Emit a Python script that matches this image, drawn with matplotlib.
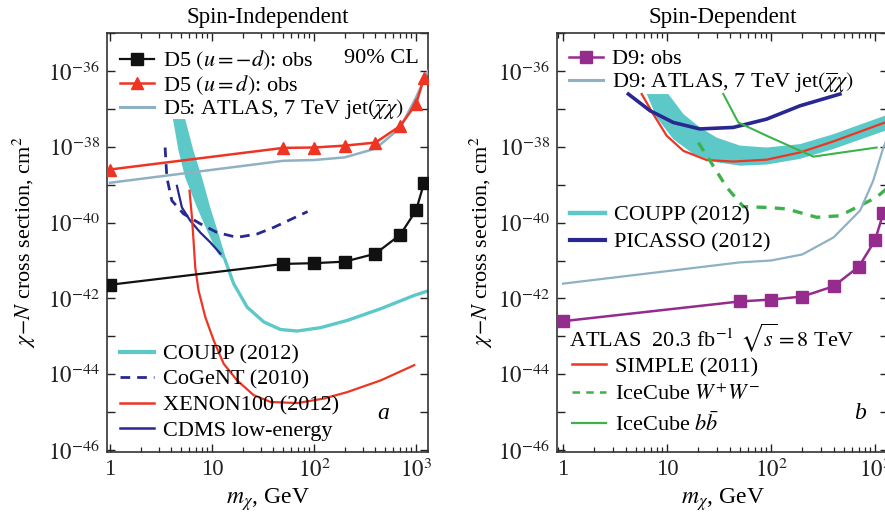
import numpy as np
import matplotlib
matplotlib.use("Agg")
import matplotlib.pyplot as plt
from matplotlib.ticker import FixedLocator, FuncFormatter, LogLocator, NullFormatter
from matplotlib.lines import Line2D

plt.rcParams["font.family"] = "serif"
plt.rcParams["font.serif"] = ["Liberation Serif", "DejaVu Serif"]
plt.rcParams["mathtext.fontset"] = "stix"

# cross sections are stored as log10(sigma / cm^2), masses in GeV

# ---- spin-independent panel ----
si_mass_obs = [1, 50, 100, 200, 400, 700, 1000, 1200]
si_d5_neg = [-41.64, -41.09, -41.07, -41.03, -40.82, -40.32, -39.68, -38.95]
si_d5_pos = [-38.60, -38.03, -38.02, -37.97, -37.89, -37.45, -36.87, -36.18]

si_atlas7_mass = [1, 50, 100, 200, 400, 700, 1000, 1310]
si_atlas7 = [-38.95, -38.37, -38.35, -38.28, -38.05, -37.50, -36.70, -36.00]

si_coupp_band_hi_m = [5.46, 6.59, 7.97, 9.62, 11.6, 13.9]
si_coupp_band_hi = [-37.27, -38.11, -38.81, -39.60, -40.30, -41.00]
si_coupp_band_lo_m = [4.14, 4.70, 5.46, 7.12, 9.26, 11.4, 13.3]
si_coupp_band_lo = [-37.27, -38.11, -38.81, -39.60, -40.30, -40.82, -41.00]
si_coupp_m = [13.5, 16.3, 22.1, 32.2, 46.9, 68.5, 116, 212, 452, 960, 1349]
si_coupp = [-41.00, -41.61, -42.23, -42.62, -42.82, -42.86, -42.77, -42.58, -42.27,
            -41.92, -41.79]

si_cogent_m = [3.47, 3.61, 4.04, 5.26, 7.67, 11.2, 17.6, 27.7, 40, 86.5]
si_cogent = [-38.02, -38.81, -39.42, -39.77, -40.03, -40.26, -40.39, -40.30, -40.13, -39.71]

si_cdms_m = [4.53, 5.07, 6.12, 7.67, 9.62, 12.1]
si_cdms = [-39.03, -39.60, -39.95, -40.26, -40.52, -40.82]

si_xenon_m = [6.02, 6.36, 6.59, 6.85, 7.38, 8.59, 10.4, 13.0, 17.6, 25.6, 37.4, 68.5,
              125, 212, 452, 960]
si_xenon = [-39.16, -39.86, -40.47, -41.18, -41.79, -42.49, -43.11, -43.72, -44.16,
            -44.55, -44.73, -44.76, -44.64, -44.47, -44.16, -43.76]

# ---- spin-dependent panel ----
sd_mass_obs = [1, 50, 100, 200, 400, 700, 1000, 1200]
sd_d9 = [-42.60, -42.08, -42.03, -41.95, -41.68, -41.16, -40.47, -39.76]

sd_atlas7_mass = [1, 50, 100, 200, 400, 720, 960, 1200, 1400]
sd_atlas7 = [-41.61, -41.05, -41.00, -40.84, -40.39, -39.68, -38.90, -38.03, -37.60]

sd_coupp_hi_m = [10.3, 14.4, 20.7, 30.1, 50.4, 91, 190, 397, 1247, 1400]
sd_coupp_hi = [-36.61, -37.14, -37.49, -37.76, -37.97, -38.02, -37.93, -37.67, -37.18, -37.10]
sd_coupp_lo_m = [6.38, 7.96, 11.5, 17.9, 30.1, 50.4, 91, 190, 397, 1247, 1400]
sd_coupp_lo = [-36.61, -37.23, -37.80, -38.19, -38.41, -38.50, -38.47, -38.32, -38.06, -37.58, -37.50]

sd_simple_m = [5.71, 7.38, 9.93, 14.4, 24.1, 43.4, 91, 190, 397, 1247, 1400]
sd_simple = [-36.61, -37.14, -37.71, -38.11, -38.35, -38.39, -38.34, -38.15, -37.86, -37.36, -37.30]

sd_picasso_m = [4.25, 6.87, 11.5, 20.7, 43.4, 91, 190, 460]
sd_picasso = [-36.61, -37.05, -37.36, -37.53, -37.49, -37.27, -36.92, -36.61]

sd_icecube_bb_m = [34.8, 48.5, 91, 255, 1038]
sd_icecube_bb = [-36.61, -37.36, -37.71, -38.26, -38.02]

sd_icecube_ww_m = [20.0, 25.9, 37.5, 54.2, 91, 142, 275, 460, 1038, 1300]
sd_icecube_ww = [-37.89, -38.37, -39.07, -39.58, -39.60, -39.64, -39.86, -39.82, -39.33, -39.10]

c_black = "#111111"
c_red = "#ee3524"
c_atlas = "#8fb1c4"
c_cyan = "#5cc9c8"
c_navy = "#282890"
c_green = "#3cb34a"
c_purple = "#962b8e"


def sig(v):
    return 10.0 ** np.asarray(v)


def style_axes(ax, xmin, xmax, ylabel_x):
    ax.set_xscale("log")
    ax.set_yscale("log")
    ax.set_xlim(xmin, xmax)
    ax.set_ylim(10 ** -46.05, 10 ** -35.0)
    ax.xaxis.set_major_locator(FixedLocator([1, 10, 100, 1000]))
    ax.xaxis.set_major_formatter(FuncFormatter(
        lambda v, p: {1: "1", 10: "10", 100: r"$10^2$", 1000: r"$10^3$"}.get(int(round(v)), "")))
    ax.xaxis.set_minor_locator(LogLocator(base=10, subs=np.arange(2, 10), numticks=20))
    ax.xaxis.set_minor_formatter(NullFormatter())
    ax.yaxis.set_major_locator(FixedLocator([10.0 ** e for e in range(-46, -34)]))
    ax.yaxis.set_major_formatter(FuncFormatter(
        lambda v, p: (r"$10^{%d}$" % round(np.log10(v))) if round(np.log10(v)) % 2 == 0 else ""))
    ax.yaxis.set_minor_locator(FixedLocator([]))
    ax.tick_params(which="both", direction="in", top=True, right=True,
                   labelsize=16.5, colors="#222222")
    ax.tick_params(which="major", length=6, width=1.0, pad=5)
    ax.tick_params(which="minor", length=3.5, width=0.9)
    for s in ax.spines.values():
        s.set_linewidth(1.2)
        s.set_color("#333333")
    ax.set_xlabel(r"$m_\chi$, GeV", fontsize=17, labelpad=3)
    ax.set_ylabel(r"$\chi\!-\!N$ cross section, cm$^2$", fontsize=16)
    ax.yaxis.set_label_coords(ylabel_x, 0.5)


fig = plt.figure(figsize=(8.85, 5.15), dpi=100)
ax1 = fig.add_axes([107 / 885, 63 / 515, 321 / 885, 419 / 515])
ax2 = fig.add_axes([557 / 885, 63 / 515, 331 / 885, 419 / 515])

leg_kw = dict(frameon=False, fontsize=16, borderpad=0, borderaxespad=0,
              handlelength=1.55, handletextpad=0.4, loc="upper left")

# ---- left: spin-independent ----
style_axes(ax1, 0.935, 1310, -0.215)
ax1.set_title("Spin-Independent", fontsize=16.5, pad=7)

ax1.fill(np.r_[si_coupp_band_hi_m, si_coupp_band_lo_m[::-1]],
         sig(np.r_[si_coupp_band_hi, si_coupp_band_lo[::-1]]),
         color=c_cyan, lw=0, zorder=2)
ax1.plot(si_coupp_m, sig(si_coupp), color=c_cyan, lw=2.4, zorder=2)
ax1.plot(si_cogent_m, sig(si_cogent), color=c_navy, lw=2.0, ls=(0, (3.5, 2.5)), zorder=3)
ax1.plot(si_cdms_m, sig(si_cdms), color=c_navy, lw=1.6, zorder=3)
ax1.plot(si_xenon_m, sig(si_xenon), color=c_red, lw=1.6, zorder=3)
ax1.plot(si_atlas7_mass, sig(si_atlas7), color=c_atlas, lw=1.8, zorder=4)
h_neg, = ax1.plot(si_mass_obs, sig(si_d5_neg), color=c_black, lw=1.6, marker="s",
                  ms=8, zorder=5)
h_pos, = ax1.plot(si_mass_obs, sig(si_d5_pos), color=c_red, lw=1.8, marker="^",
                  ms=8.5, zorder=5)

top1 = ax1.legend([h_neg, h_pos, Line2D([], [], color=c_atlas, lw=2.2)],
                  [r"D5 $(u=-d)$: obs", r"D5 $(u=d)$: obs",
                   r"D5: ATLAS, 7 TeV jet$(\overline{\chi}\chi)$"],
                  bbox_to_anchor=(0.04, 0.963), labelspacing=0.03, **leg_kw)
ax1.add_artist(top1)
ax1.text(0.97, 0.94, "90% CL", transform=ax1.transAxes, ha="right", va="center",
         fontsize=16)
ax1.legend([Line2D([], [], color=c_cyan, lw=3),
            Line2D([], [], color=c_navy, lw=2, ls=(0, (3.5, 2.5))),
            Line2D([], [], color=c_red, lw=1.8),
            Line2D([], [], color=c_navy, lw=1.8)],
           ["COUPP (2012)", "CoGeNT (2010)", "XENON100 (2012)", "CDMS low-energy"],
           bbox_to_anchor=(0.04, 0.258), labelspacing=0.22, **leg_kw)
ax1.text(0.86, 0.093, "a", transform=ax1.transAxes, ha="center", va="center",
         fontsize=17, style="italic")

# ---- right: spin-dependent ----
style_axes(ax2, 0.875, 1334, -0.187)
ax2.set_title("Spin-Dependent", fontsize=16.5, pad=7)

ax2.fill(np.r_[sd_coupp_hi_m, sd_coupp_lo_m[::-1]],
         sig(np.r_[sd_coupp_hi, sd_coupp_lo[::-1]]),
         color=c_cyan, lw=0, zorder=2)
ax2.plot(sd_simple_m, sig(sd_simple), color=c_red, lw=1.6, zorder=3)
ax2.plot(sd_picasso_m, sig(sd_picasso), color=c_navy, lw=2.6, zorder=3)
ax2.plot(sd_icecube_bb_m, sig(sd_icecube_bb), color=c_green, lw=1.5, zorder=3)
ax2.plot(sd_icecube_ww_m, sig(sd_icecube_ww), color=c_green, lw=2.4,
         ls=(0, (3, 2.5)), zorder=3)
ax2.plot(sd_atlas7_mass, sig(sd_atlas7), color=c_atlas, lw=1.6, zorder=4)
h_d9, = ax2.plot(sd_mass_obs, sig(sd_d9), color=c_purple, lw=1.8, marker="s",
                 ms=8, zorder=5)

top2 = ax2.legend([h_d9, Line2D([], [], color=c_atlas, lw=2.2)],
                  ["D9: obs", r"D9: ATLAS, 7 TeV jet$(\overline{\chi}\chi)$"],
                  bbox_to_anchor=(0.035, 0.962), labelspacing=0.05, **leg_kw)
ax2.add_artist(top2)
mid2 = ax2.legend([Line2D([], [], color=c_cyan, lw=3.2),
                   Line2D([], [], color=c_navy, lw=3.0)],
                  ["COUPP (2012)", "PICASSO (2012)"],
                  bbox_to_anchor=(0.04, 0.59), labelspacing=0.3, **leg_kw)
ax2.add_artist(mid2)
ax2.text(0.035, 0.272, r"ATLAS  20.3 fb$^{-1}$ $\sqrt{s}=8$ TeV",
         transform=ax2.transAxes, ha="left", va="center", fontsize=16)
ax2.legend([Line2D([], [], color=c_red, lw=1.8),
            Line2D([], [], color=c_green, lw=1.8, ls=(0, (3, 2.5))),
            Line2D([], [], color=c_green, lw=1.6)],
           ["SIMPLE (2011)", r"IceCube $W^{+}W^{-}$", r"IceCube $b\bar{b}$"],
           bbox_to_anchor=(0.045, 0.228), labelspacing=0.32, **leg_kw)
ax2.text(0.915, 0.093, "b", transform=ax2.transAxes, ha="center", va="center",
         fontsize=17, style="italic")

fig.savefig("out.png", dpi=100)
